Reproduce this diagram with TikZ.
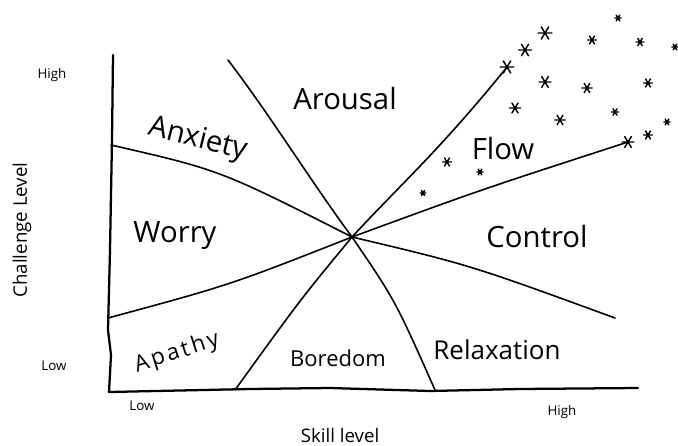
\documentclass[tikz,border=0pt]{standalone}
\usepackage{fontspec}
\setmainfont{Open Sans}
\begin{document}
\begin{tikzpicture}[x=0.75pt,y=-0.75pt,line cap=round,line join=round]
\useasboundingbox[fill=white] (0,0) rectangle (678,446);
\tikzset{
  region/.style={font=\fontsize{22}{26}\selectfont},
  ticklab/.style={font=\fontsize{10}{12}\selectfont},
  axlab/.style={font=\fontsize{14}{16}\selectfont},
  divider/.style={line width=1.2pt},
  axisline/.style={line width=1.7pt},
  starmark/.pic={\draw[line width=1.1pt] (-4,0)--(4,0) (-2.2,-3.6)--(2.2,3.6) (-2.2,3.6)--(2.2,-3.6);}
}
% key points
\coordinate (O) at (109,392);
\coordinate (ytop) at (113,55);
\coordinate (xend) at (638,388);
\coordinate (C) at (352,237);
\coordinate (arT) at (228,60);
\coordinate (flT) at (507,67);
\coordinate (flB) at (628,142);
\coordinate (axL) at (111,145);
\coordinate (apL) at (108,318);
\coordinate (rxR) at (615,318);
\coordinate (boL) at (235,390);
\coordinate (boR) at (435,390);
% axes
\draw[axisline] (ytop) -- (112,140) -- (110,250) -- (108,330) -- (111,355) -- (O) -- (250,389) -- (330,388) -- (430,391) -- (520,389) -- (xend);
% dividing lines
\draw[divider] (arT) .. controls (270,115) and (310,180) .. (C) .. controls (395,300) .. (boR);
\draw[divider] (flT) .. controls (440,150) and (400,185) .. (C) .. controls (300,300) .. (boL);
\draw[divider] (axL) .. controls (220,170) .. (C) .. controls (470,265) .. (rxR);
\draw[divider] (apL) .. controls (230,285) .. (C) .. controls (480,190) .. (flB);
% stars
\foreach \x/\y/\s in {507/67/1.7, 525/50/1.6, 545/33/1.7, 618/18/0.8, 592/40/1.1, 640/42/1.0, 675/47/0.8,
  545/82/1.5, 587/88/1.3, 648/83/1.1, 515/108/1.4, 560/120/1.3, 615/112/0.9,
  628/142/1.5, 648/135/1.1, 667/122/0.8, 447/162/1.1, 480/172/0.8, 423/193/0.7}
  \pic[scale=\s] at (\x,\y) {starmark};
% axis labels
\node[ticklab] (hiY) at (52,75) {High};
\node[ticklab] (loY) at (54,366) {Low};
\node[axlab,rotate=90] (chl) at (22,230) {Challenge Level};
\node[ticklab] (loX) at (142,406) {Low};
\node[ticklab] (hiX) at (562,412) {High};
\node[axlab] (skl) at (340,435) {Skill level};
% regions
\node[region] (arousal) at (345,98) {Arousal};
\node[region,rotate=-14] (anxiety) at (198,140) {Anxiety};
\node[region] (flow) at (503,148) {Flow};
\node[region] (worry) at (175,236) {Worry};
\node[region] (control) at (537,236) {Control};
\node[region,font=\fontsize{17}{20}\selectfont\addfontfeature{LetterSpace=12},rotate=18] (apathy) at (177,353) {Apathy};
\node[region,font=\fontsize{16.5}{19}\selectfont] (boredom) at (338,358) {Boredom};
\node[region,font=\fontsize{19.5}{22}\selectfont] (relax) at (497,350) {Relaxation};
\end{tikzpicture}
\end{document}
